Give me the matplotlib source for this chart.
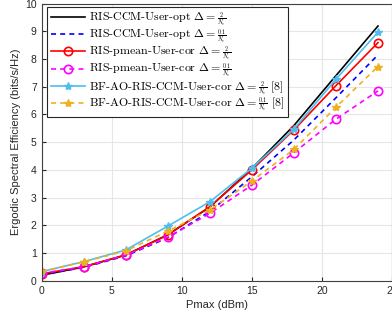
import matplotlib
matplotlib.use("Agg")
import matplotlib.pyplot as plt

plt.rcParams['mathtext.fontset'] = 'cm'

pmax = [0, 3, 6, 9, 12, 15, 18, 21, 24]
ccm_opt_2 = [0.20, 0.50, 0.93, 1.66, 2.66, 4.05, 5.60, 7.40, 9.19]
ccm_opt_01 = [0.22, 0.48, 0.90, 1.55, 2.50, 3.75, 5.08, 6.60, 8.15]
pmean_2 = [0.25, 0.51, 0.93, 1.65, 2.67, 4.00, 5.44, 7.04, 8.59]
pmean_01 = [0.27, 0.50, 0.92, 1.57, 2.43, 3.45, 4.62, 5.83, 6.85]
bfao_2 = [0.33, 0.69, 1.11, 1.97, 2.85, 4.06, 5.47, 7.27, 8.97]
bfao_01 = [0.34, 0.68, 1.08, 1.79, 2.55, 3.60, 4.74, 6.26, 7.73]

labels = [
    r'RIS-CCM-User-opt $\Delta=\genfrac{}{}{0.45}{2}{2}{N_v}$',
    r'RIS-CCM-User-opt $\Delta=\genfrac{}{}{0.45}{2}{0.1}{N_v}$',
    r'RIS-pmean-User-cor $\Delta=\genfrac{}{}{0.45}{2}{2}{N_v}$',
    r'RIS-pmean-User-cor $\Delta=\genfrac{}{}{0.45}{2}{0.1}{N_v}$',
    r'BF-AO-RIS-CCM-User-cor $\Delta=\genfrac{}{}{0.45}{2}{2}{N_v}$ [8]',
    r'BF-AO-RIS-CCM-User-cor $\Delta=\genfrac{}{}{0.45}{2}{0.1}{N_v}$ [8]',
]
xticks = [0, 5, 10, 15, 20, 25]
yticks = list(range(0, 11))

fig = plt.figure(figsize=(3.92, 3.25), dpi=100)
ax = fig.add_axes([0.106, 0.136, 0.894, 0.853])

lw = 1.2
ax.plot(pmax, ccm_opt_2, color='black', lw=lw, label=labels[0])
ax.plot(pmax, ccm_opt_01, color='#0000FF', lw=lw, ls='--', dashes=(3, 2.5), label=labels[1])
ax.plot(pmax, pmean_2, color='#FF0000', lw=lw, marker='o', ms=6, mfc='none', mew=1.2, label=labels[2])
ax.plot(pmax, pmean_01, color='#FF00FF', lw=lw, ls='--', dashes=(3, 2.5), marker='o', ms=6, mfc='none', mew=1.2, label=labels[3])
ax.plot(pmax, bfao_2, color='#4DBEEE', lw=lw, marker='*', ms=6, label=labels[4])
ax.plot(pmax, bfao_01, color='#EDB120', lw=lw, ls='--', dashes=(3, 2.5), marker='*', ms=6, label=labels[5])

ax.set_xlim(0, 25)
ax.set_ylim(0, 10)
ax.set_xticks(xticks)
ax.set_yticks(yticks)
ax.grid(True, color='#e6e6e6', lw=0.8)
ax.set_axisbelow(True)
for s in ax.spines.values():
    s.set_color('#404040')
    s.set_linewidth(0.8)
ax.tick_params(labelsize=7.5, colors='#262626', direction='in', length=3,
               labelfontfamily='Liberation Sans')
ax.set_xlabel('Pmax (dBm)', fontsize=8, family='Liberation Sans', color='#262626', labelpad=3)
ax.set_ylabel('Ergodic Spectral Efficiency (bits/s/Hz)', fontsize=8, family='Liberation Sans',
              color='#262626', labelpad=3)

leg = ax.legend(loc='upper left', bbox_to_anchor=(0.016, 0.987), prop={'family': 'cmr10', 'size': 8.6},
                handlelength=2.9, fancybox=False, framealpha=1, edgecolor='#262626',
                borderpad=0.3, labelspacing=-0.08, handletextpad=0.3, borderaxespad=0)
leg.get_frame().set_linewidth(0.8)

fig.savefig('out.png', dpi=100)
